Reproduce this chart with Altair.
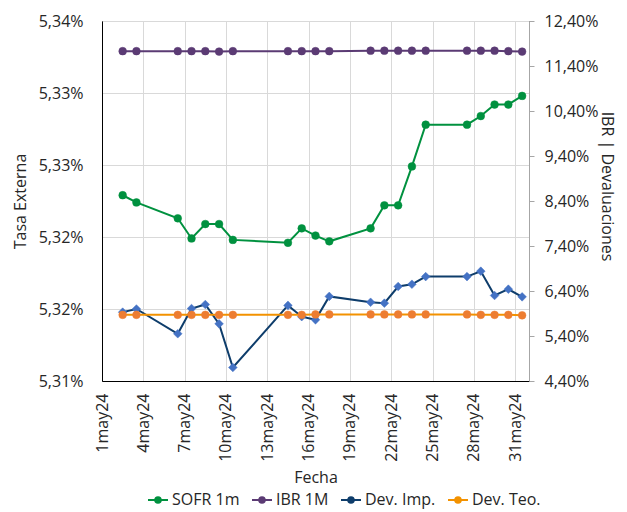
import altair as alt
import pandas as pd

# ---------------- data ----------------
dates = ["2024-05-02", "2024-05-03", "2024-05-06", "2024-05-07", "2024-05-08",
         "2024-05-09", "2024-05-10", "2024-05-14", "2024-05-15", "2024-05-16",
         "2024-05-17", "2024-05-20", "2024-05-21", "2024-05-22", "2024-05-23",
         "2024-05-24", "2024-05-27", "2024-05-28", "2024-05-29", "2024-05-30",
         "2024-05-31"]

sofr_1m = [5.3249, 5.3244, 5.3233, 5.3219, 5.3229, 5.3229, 5.3218, 5.3216, 5.3226,
           5.3221, 5.3217, 5.3226, 5.3242, 5.3242, 5.3269, 5.3298, 5.3298, 5.3304,
           5.3312, 5.3312, 5.3318]

ibr_1m = [11.73, 11.73, 11.73, 11.73, 11.73, 11.72, 11.73, 11.73, 11.73, 11.73,
          11.73, 11.74, 11.74, 11.74, 11.74, 11.74, 11.74, 11.74, 11.74, 11.73, 11.72]

dev_imp = [5.93, 6.00, 5.45, 6.01, 6.10, 5.67, 4.70, 6.08, 5.83, 5.76, 6.28,
           6.15, 6.13, 6.50, 6.55, 6.72, 6.72, 6.84, 6.30, 6.44, 6.27]

dev_teo = [5.87, 5.87, 5.87, 5.87, 5.87, 5.87, 5.87, 5.87, 5.87, 5.88, 5.88,
           5.88, 5.88, 5.88, 5.88, 5.88, 5.88, 5.87, 5.87, 5.87, 5.86]

series_names = ["SOFR 1m", "IBR 1M", "Dev. Imp.", "Dev. Teo."]
line_colors = ["#00913F", "#5B3B74", "#0E3D6B", "#F39200"]
marker_colors = ["#00913F", "#5B3B74", "#4472C4", "#ED7D31"]
marker_shapes = ["circle", "circle", "diamond", "circle"]
marker_sizes = [60, 60, 75, 60]

left_ticks = [5.312, 5.317, 5.322, 5.327, 5.332, 5.337]
right_ticks = [4.4, 5.4, 6.4, 7.4, 8.4, 9.4, 10.4, 11.4, 12.4]
x_tick_days = [1, 4, 7, 10, 13, 16, 19, 22, 25, 28, 31]

# ---------------- frames ----------------
stamp = [d + "T12:00:00" for d in dates]
values_by_series = {"SOFR 1m": sofr_1m, "IBR 1M": ibr_1m, "Dev. Imp.": dev_imp, "Dev. Teo.": dev_teo}
frames = {s: pd.DataFrame({"date": stamp, "series": s, "value": v}) for s, v in values_by_series.items()}
left_df = frames["SOFR 1m"]
right_df = pd.concat([frames["IBR 1M"], frames["Dev. Imp."], frames["Dev. Teo."]], ignore_index=True)

FONT = "Open Sans"
TXT = "#262626"

x_enc = alt.X(
    "date:T",
    scale=alt.Scale(domain=[alt.DateTime(year=2024, month=5, date=1),
                            alt.DateTime(year=2024, month=6, date=1)]),
    axis=alt.Axis(
        values=[alt.DateTime(year=2024, month=5, date=d) for d in x_tick_days],
        labelExpr="timeFormat(datum.value, '%-d') + 'may24'",
        labelAngle=270, labelPadding=12, ticks=False,
        domainColor="black", domainWidth=1,
        grid=True, gridColor="#D9D9D9",
        title="Fecha", titlePadding=8,
    ),
)

# legend symbol: a short line with a (filled-looking) round marker in the middle
legend_symbol = ("M-1,0L1,0"
                 "M-0.28,0A0.28,0.28 0 1,0 0.28,0A0.28,0.28 0 1,0 -0.28,0"
                 "M-0.12,0A0.12,0.12 0 1,0 0.12,0A0.12,0.12 0 1,0 -0.12,0")

legend_def = alt.Legend(
    title=None, orient="none", legendX=45, legendY=468, direction="horizontal",
    columns=4, columnPadding=8, labelOffset=3,
    symbolType=legend_symbol, symbolSize=400, symbolStrokeWidth=2,
    labelFont=FONT, labelFontSize=16, labelColor=TXT,
)
color_line = alt.Color("series:N", scale=alt.Scale(domain=series_names, range=line_colors),
                       legend=legend_def)

y_left = alt.Y(
    "value:Q",
    scale=alt.Scale(domain=[5.312, 5.337], nice=False, zero=False),
    axis=alt.Axis(
        values=left_ticks,
        labelExpr="replace(format(datum.value, '.2f'), '.', ',') + '%'",
        ticks=False, labelPadding=19, domainColor="black",
        grid=True, gridColor="#D9D9D9",
        title="Tasa Externa", titlePadding=10,
    ),
)
y_right = alt.Y(
    "value:Q",
    scale=alt.Scale(domain=[4.4, 12.4], nice=False, zero=False),
    axis=alt.Axis(
        orient="right", values=right_ticks,
        labelExpr="replace(format(datum.value, '.2f'), '.', ',') + '%'",
        ticks=True, tickSize=5, tickColor="#A6A6A6", domainColor="#A6A6A6",
        labelPadding=10, grid=False,
        title="IBR | Devaluaciones", titlePadding=1, titleY=165,
    ),
)


def points(df, name, y_enc):
    i = series_names.index(name)
    return alt.Chart(df).mark_point(
        filled=True, size=marker_sizes[i], opacity=1, shape=marker_shapes[i],
        fill=marker_colors[i], stroke=marker_colors[i], strokeWidth=0.5,
    ).encode(x=x_enc, y=y_enc)


left_line = alt.Chart(left_df).mark_line(strokeWidth=2).encode(x=x_enc, y=y_left, color=color_line)
left = alt.layer(left_line, points(frames["SOFR 1m"], "SOFR 1m", y_left))

right_line = alt.Chart(right_df).mark_line(strokeWidth=2).encode(
    x=x_enc, y=y_right, color=color_line, detail="series:N")
right = alt.layer(
    right_line,
    points(frames["IBR 1M"], "IBR 1M", y_right),
    points(frames["Dev. Imp."], "Dev. Imp.", y_right),
    points(frames["Dev. Teo."], "Dev. Teo.", y_right),
)

chart = alt.layer(left, right).resolve_scale(y="independent").properties(
    width=427, height=360,
    autosize=alt.AutoSizeParams(type="none"),
    padding={"left": 94, "top": 13, "right": 90, "bottom": 130},
).configure_axis(
    labelFont=FONT, labelFontSize=16, labelColor=TXT,
    titleFont=FONT, titleFontSize=16, titleFontWeight="normal", titleColor=TXT,
).configure_view(
    stroke="black", strokeWidth=1,
).configure_legend(
    labelFont=FONT, labelFontSize=16,
)

chart.save("out.html", embed_options={"renderer": "svg", "actions": False})
